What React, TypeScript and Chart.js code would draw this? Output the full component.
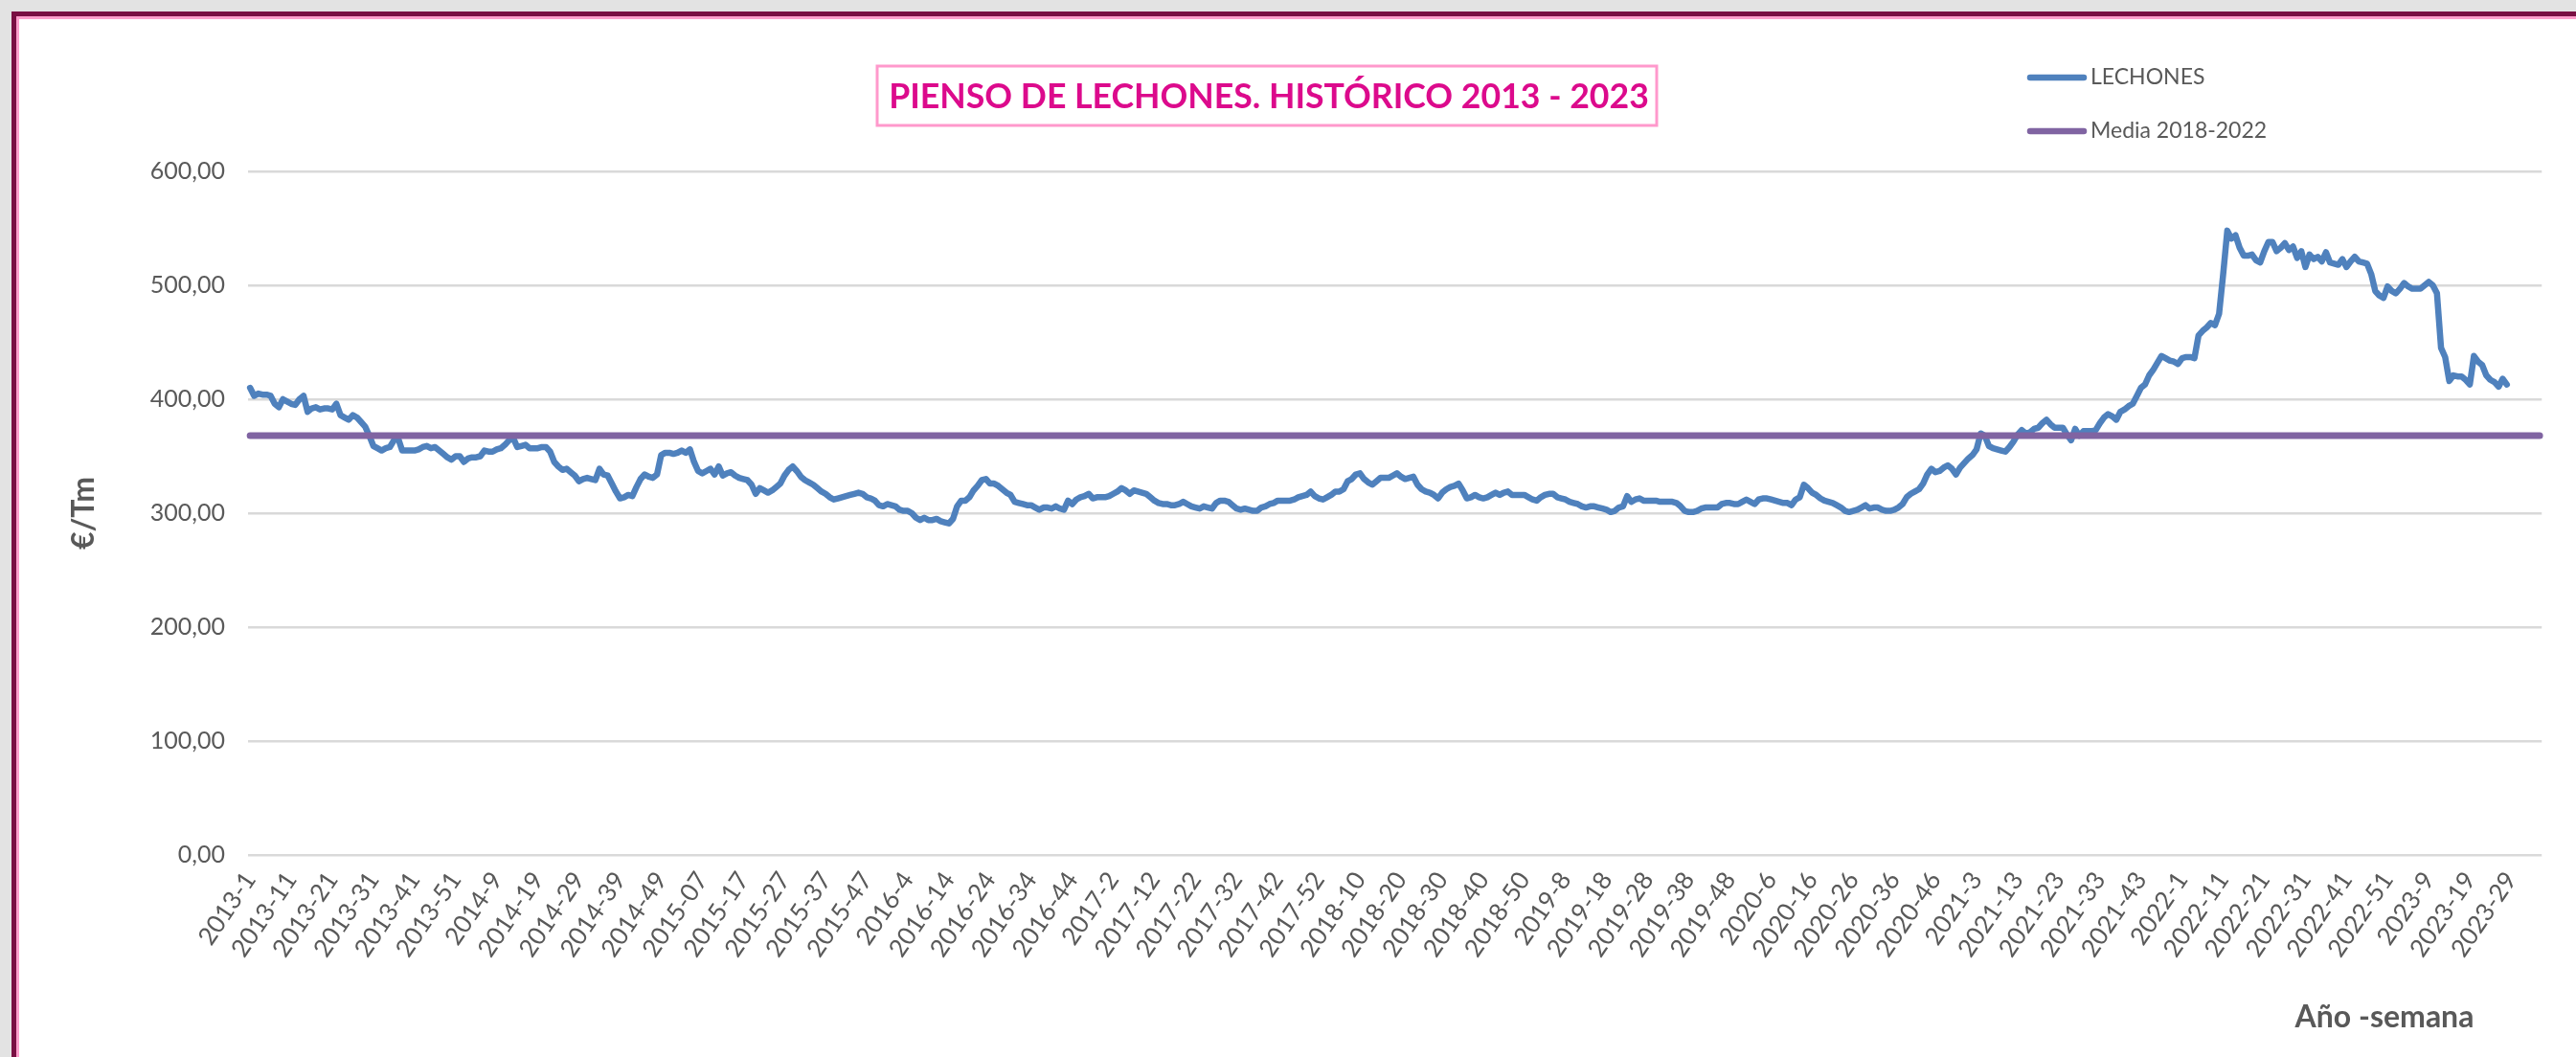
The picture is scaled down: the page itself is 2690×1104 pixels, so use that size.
import React, { useEffect, useRef } from 'react';
import { Chart, registerables } from 'chart.js';

Chart.register(...registerables);

// ---------- DATA ----------
const years = [2013, 2014, 2015, 2016, 2017, 2018, 2019, 2020, 2021, 2022, 2023];
const weeksPerYear = [52, 52, 53, 52, 52, 52, 52, 53, 52, 52, 36];
const zeroPaddedYears = [2015];

const lechones2013 = [410, 403, 405, 404, 404, 403, 396, 393, 400, 398, 396, 395, 400, 403, 389, 392, 393, 391, 392, 392, 391, 396, 386, 384, 382, 386, 384, 380, 376, 368, 359, 357, 355, 357, 358, 364, 366, 355, 355, 355, 355, 356, 358, 359, 357, 358, 355, 352, 349, 347, 350, 350];
const lechones2014 = [345, 348, 349, 349, 350, 355, 354, 354, 356, 357, 360, 364, 366, 358, 359, 360, 357, 357, 357, 358, 358, 354, 345, 341, 338, 339, 336, 333, 328, 330, 331, 330, 329, 339, 334, 333, 326, 319, 313, 314, 316, 315, 323, 330, 334, 332, 331, 334, 351, 353, 353, 352];
const lechones2015 = [353, 355, 353, 356, 345, 337, 335, 337, 339, 334, 341, 333, 335, 336, 333, 331, 330, 329, 325, 317, 322, 320, 318, 320, 323, 326, 333, 338, 341, 337, 332, 329, 327, 325, 322, 319, 317, 314, 312, 313, 314, 315, 316, 317, 318, 317, 314, 313, 311, 307, 306, 308, 307];
const lechones2016 = [306, 303, 302, 302, 300, 296, 294, 296, 294, 294, 295, 293, 292, 291, 295, 306, 311, 311, 314, 320, 324, 329, 330, 326, 326, 324, 321, 318, 316, 310, 309, 308, 307, 307, 305, 303, 305, 305, 304, 306, 304, 303, 311, 308, 312, 314, 315, 317, 313, 314, 314, 314];
const lechones2017 = [315, 317, 319, 322, 320, 317, 320, 319, 318, 317, 314, 311, 309, 308, 308, 307, 307, 308, 310, 308, 306, 305, 304, 306, 305, 304, 309, 311, 311, 310, 307, 304, 303, 304, 303, 302, 302, 305, 306, 308, 309, 311, 311, 311, 311, 312, 314, 315, 316, 319, 315, 313];
const lechones2018 = [312, 314, 316, 319, 319, 321, 328, 330, 334, 335, 330, 327, 325, 328, 331, 331, 331, 333, 335, 332, 330, 331, 332, 325, 321, 319, 318, 316, 313, 318, 321, 323, 324, 326, 320, 313, 314, 316, 314, 313, 314, 316, 318, 316, 318, 319, 316, 316, 316, 316, 314, 312];
const lechones2019 = [311, 314, 316, 317, 317, 314, 313, 312, 310, 309, 308, 306, 305, 306, 306, 305, 304, 303, 301, 302, 305, 306, 315, 310, 312, 313, 311, 311, 311, 311, 310, 310, 310, 310, 309, 306, 302, 301, 301, 302, 304, 305, 305, 305, 305, 308, 309, 309, 308, 308, 310, 312];
const lechones2020 = [310, 308, 312, 313, 313, 312, 311, 310, 309, 309, 307, 312, 314, 325, 322, 318, 316, 313, 311, 310, 309, 307, 305, 302, 301, 302, 303, 305, 307, 304, 305, 305, 303, 302, 302, 303, 305, 308, 314, 317, 319, 321, 326, 334, 339, 336, 337, 340, 342, 339, 334, 340, 344];
const lechones2021 = [348, 351, 356, 370, 368, 359, 357, 356, 355, 354, 358, 363, 369, 373, 370, 371, 374, 375, 379, 382, 378, 375, 375, 375, 369, 364, 374, 368, 372, 372, 372, 373, 379, 384, 387, 385, 382, 389, 391, 394, 396, 403, 410, 413, 421, 426, 432, 438, 436, 434, 433, 431];
const lechones2022 = [436, 437, 437, 436, 456, 460, 463, 467, 465, 475, 510, 548, 541, 544, 533, 526, 526, 527, 522, 520, 530, 538, 538, 530, 533, 537, 531, 534, 524, 530, 516, 527, 523, 525, 521, 529, 520, 519, 518, 523, 516, 521, 525, 521, 520, 519, 510, 495, 491, 489, 499, 495];
const lechones2023 = [493, 497, 502, 499, 497, 497, 497, 500, 503, 500, 493, 445, 437, 416, 421, 420, 420, 417, 413, 438, 433, 430, 421, 417, 415, 411, 418, 413];

const mediaValue = 368; // Media 2018-2022

const yMin = 0;
const yMax = 600;
const yStep = 100;
const labelEvery = 10;

const seriesNames = ['LECHONES', 'Media 2018-2022'];
const seriesColors = ['#4F81BD', '#8064A2'];
const titleText = 'PIENSO DE LECHONES. HISTÓRICO 2013 - 2023';
const xTitle = 'Año -semana';
const yTitle = '€/Tm';

// ---------- BUILD ----------
const categories: string[] = [];
years.forEach((y, k) => {
  for (let w = 1; w <= weeksPerYear[k]; w++) {
    const ws = zeroPaddedYears.includes(y) && w < 10 ? '0' + w : String(w);
    categories.push(`${y}-${ws}`);
  }
});
const lechones = [
  ...lechones2013, ...lechones2014, ...lechones2015, ...lechones2016, ...lechones2017,
  ...lechones2018, ...lechones2019, ...lechones2020, ...lechones2021, ...lechones2022, ...lechones2023,
];
const media = categories.map(() => mediaValue);

const W = 2690;
const H = 1104;
const GREY = '#595959';
const FONT = 'Lato, "Open Sans", sans-serif';

const overlayPlugin = {
  id: 'overlay',
  afterDraw(chart: any) {
    const ctx = chart.ctx as CanvasRenderingContext2D;
    ctx.save();
    // title box
    const bx = 916, by = 69, bw = 814, bh = 62;
    ctx.fillStyle = '#FFFFFF';
    ctx.fillRect(bx, by, bw, bh);
    ctx.strokeStyle = '#FF99CC';
    ctx.lineWidth = 3;
    ctx.strokeRect(bx, by, bw, bh);
    let size = 38;
    ctx.font = `bold ${size}px ${FONT}`;
    const tw = ctx.measureText(titleText).width;
    size = Math.min(44, size * 794 / tw);
    ctx.font = `bold ${size}px ${FONT}`;
    ctx.fillStyle = '#DC0A8C';
    ctx.textAlign = 'center';
    ctx.textBaseline = 'middle';
    ctx.fillText(titleText, bx + bw / 2 + 2, by + bh / 2 + 1);

    // legend
    chart.data.datasets.forEach((ds: any, k: number) => {
      const ly = 81 + k * 56;
      ctx.strokeStyle = ds.borderColor;
      ctx.lineWidth = 6.5;
      ctx.lineCap = 'round';
      ctx.beginPath();
      ctx.moveTo(2120, ly);
      ctx.lineTo(2176, ly);
      ctx.stroke();
      ctx.font = `23px ${FONT}`;
      ctx.fillStyle = GREY;
      ctx.textAlign = 'left';
      ctx.textBaseline = 'middle';
      ctx.fillText(ds.label, 2183, ly);
    });

    // x axis title
    ctx.font = `bold 32px ${FONT}`;
    ctx.fillStyle = GREY;
    ctx.textAlign = 'center';
    ctx.textBaseline = 'middle';
    ctx.fillText(xTitle, 2490, 1063);
    ctx.restore();
  },
};

export default function App() {
  const ref = useRef<HTMLCanvasElement | null>(null);

  useEffect(() => {
    if (!ref.current) return;
    const chart = new Chart(ref.current, {
      type: 'line',
      data: {
        labels: categories,
        datasets: [
          {
            label: seriesNames[0],
            data: lechones,
            borderColor: seriesColors[0],
            backgroundColor: seriesColors[0],
            borderWidth: 6.5,
            pointRadius: 0,
            tension: 0,
            borderCapStyle: 'round',
            borderJoinStyle: 'round',
            order: 1,
          },
          {
            label: seriesNames[1],
            data: media,
            borderColor: seriesColors[1],
            backgroundColor: seriesColors[1],
            borderWidth: 7,
            pointRadius: 0,
            tension: 0,
            borderCapStyle: 'round',
            order: 0,
          },
        ],
      },
      options: {
        animation: false,
        responsive: false,
        devicePixelRatio: 1,
        events: [],
        layout: { padding: { left: 0, right: 33, top: 179, bottom: 0 } },
        plugins: {
          legend: { display: false },
          title: { display: false },
          tooltip: { enabled: false },
        },
        scales: {
          x: {
            type: 'category',
            offset: true,
            grid: { display: false, drawTicks: false },
            border: { display: false },
            ticks: {
              autoSkip: false,
              maxRotation: 56,
              minRotation: 56,
              padding: 12,
              color: GREY,
              font: { family: FONT, size: 26 },
              callback: function (this: any, value: any, index: number) {
                return index % labelEvery === 0 ? this.getLabelForValue(value) : '';
              },
            },
            afterFit: (scale: any) => {
              scale.height = H - 893;
            },
          },
          y: {
            min: yMin,
            max: yMax,
            grid: { color: '#D9D9D9', lineWidth: 2.5, drawTicks: false },
            border: { display: false },
            ticks: {
              stepSize: yStep,
              padding: 24,
              color: GREY,
              font: { family: FONT, size: 25 },
              callback: (v: any) => Number(v).toFixed(2).replace('.', ','),
            },
            title: {
              display: true,
              text: yTitle,
              color: GREY,
              font: { family: FONT, size: 32, weight: 'bold' },
              padding: { top: 68, bottom: 0 },
            },
            afterFit: (scale: any) => {
              scale.width = 259;
            },
          },
        },
      },
      plugins: [overlayPlugin],
    });
    return () => chart.destroy();
  }, []);

  return (
    <div style={{ position: 'fixed', left: 0, top: 0, width: W, height: H, background: '#E3E3E3', overflow: 'hidden' }}>
      <div style={{ position: 'absolute', left: 12, top: 12, width: W, height: H, background: '#7A1043' }}>
        <div style={{ position: 'absolute', left: 5, top: 5, right: 0, bottom: 0, background: '#FF9FCC' }}>
          <div style={{ position: 'absolute', left: 3, top: 3, right: 0, bottom: 0, background: '#FFFFFF' }} />
        </div>
      </div>
      <canvas ref={ref} width={W} height={H} style={{ position: 'absolute', left: 0, top: 0, width: W, height: H }} />
    </div>
  );
}
